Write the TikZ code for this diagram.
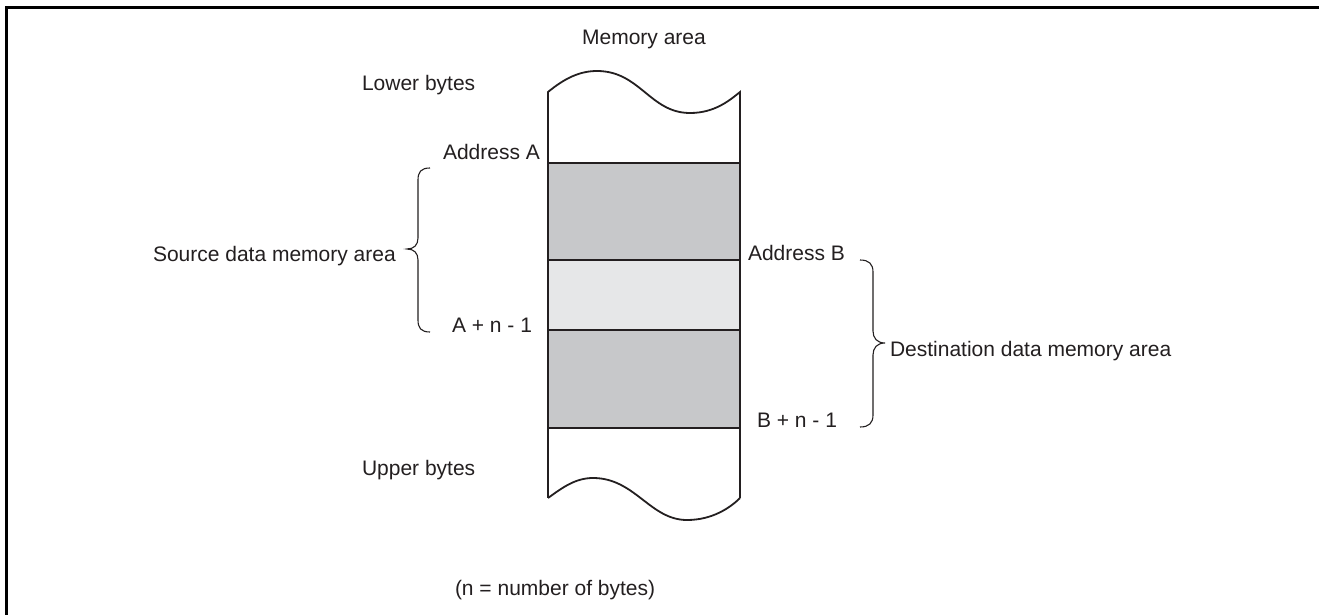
\documentclass[tikz,border=0pt]{standalone}
\usepackage{fontspec}
\setmainfont{Liberation Sans}
\definecolor{darkfill}{HTML}{C7C8CA}
\definecolor{lightfill}{HTML}{E6E7E8}
\definecolor{ink}{HTML}{231F20}
\begin{document}
\begin{tikzpicture}[x=1pt,y=-1pt,
  lbl/.style={inner sep=0pt,outer sep=0pt,text=ink,font=\fontsize{21}{25}\selectfont},
  col/.style={draw=ink,line width=1.8pt},
  brc/.style={draw=ink,line width=1.1pt}]
\useasboundingbox (0,0) rectangle (1323,615);
\fill[white] (0,0) rectangle (1323,615);
% frame
\draw[line width=2.2pt,black] (6.5,615) -- (6.5,7.5) -- (1319,7.5);
% memory column fills
\fill[darkfill] (548,163) rectangle (740,260);
\fill[lightfill] (548,260) rectangle (740,330);
\fill[darkfill] (548,330) rectangle (740,428);
% column outline
\draw[col] (548,163) -- (548,92) .. controls (565,78) and (580,71) .. (597,71)
  .. controls (640,71) and (650,113) .. (690,113)
  .. controls (715,113) and (730,100) .. (740,92) -- (740,163);
\draw[col] (548,163) -- (548,498);
\draw[col] (740,163) -- (740,498);
\draw[col] (548,498) .. controls (562,488) and (575,478) .. (593,478)
  .. controls (635,478) and (650,520) .. (687,520)
  .. controls (712,520) and (730,508) .. (740,498);
\draw[col] (548,163) -- (740,163);
\draw[col] (548,260) -- (740,260);
\draw[col] (548,330) -- (740,330);
\draw[col] (548,428) -- (740,428);
% braces
\draw[brc] (430,168) .. controls (421,168) and (418,172) .. (418,180) -- (418,238)
  .. controls (418,245) and (414,249) .. (407,249)
  .. controls (414,249) and (418,253) .. (418,260) -- (418,320)
  .. controls (418,328) and (421,332) .. (430,332);
\draw[brc] (860,260) .. controls (869,260) and (873,264) .. (873,272) -- (873,331)
  .. controls (873,338) and (877,343) .. (885,343)
  .. controls (877,343) and (873,348) .. (873,355) -- (873,415)
  .. controls (873,423) and (869,427) .. (860,427);
% labels
\node[lbl,anchor=base] (mem) at (644,45) {Memory area};
\node[lbl,anchor=base west] (lower) at (362,91) {Lower bytes};
\node[lbl,anchor=base west] (adra) at (443,160) {Address A};
\node[lbl,anchor=base west] (src) at (153,261) {Source data memory area};
\node[lbl,anchor=base west] (aend) at (452,332) {A + n - 1};
\node[lbl,anchor=base west] (adrb) at (748,260) {Address B};
\node[lbl,anchor=base west] (dst) at (890,356) {Destination data memory area};
\node[lbl,anchor=base west] (bend) at (757,427) {B + n - 1};
\node[lbl,anchor=base west] (upper) at (362,475) {Upper bytes};
\node[lbl,anchor=base west] (note) at (455,595) {(n = number of bytes)};
\end{tikzpicture}
\end{document}
